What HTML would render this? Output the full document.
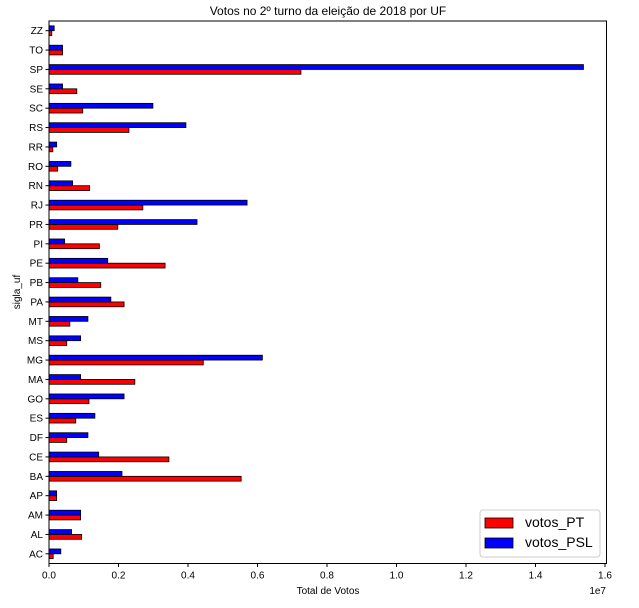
<!DOCTYPE html>
<html><head><meta charset="utf-8"><style>
body{margin:0;background:#fff;}
svg text{font-family:"Liberation Sans","DejaVu Sans",sans-serif;fill:#000;}
</style></head><body>
<svg id="chart" width="639" height="603" xmlns="http://www.w3.org/2000/svg">
<rect width="639" height="603" fill="#fff"/>
<text x="328" y="15" font-size="12" text-anchor="middle">Votos no 2º turno da eleição de 2018 por UF</text>
<g id="bars"></g>
<g id="axes"></g>
<rect x="49" y="21" width="557.5" height="542.5" fill="none" stroke="#000" stroke-width="1"/>
<text x="328" y="594" font-size="10" text-anchor="middle">Total de Votos</text>
<text x="606" y="594" font-size="10" text-anchor="end">1e7</text>
<text transform="translate(20,292) rotate(-90)" font-size="10" text-anchor="middle">sigla_uf</text>
<g>
<rect x="480" y="510" width="120" height="47" rx="3" fill="#fff" fill-opacity="0.8" stroke="#ccc"/>
<g><rect x="485" y="518" width="28" height="10" fill="#f00" stroke="#000" stroke-width="0.8"/><text x="525" y="527" font-size="14">votos_PT</text></g>
<g><rect x="485" y="538" width="28" height="10" fill="#00f" stroke="#000" stroke-width="0.8"/><text x="525" y="547" font-size="14">votos_PSL</text></g>
</g>
</svg>
<script>
const categories=["AC","AL","AM","AP","BA","CE","DF","ES","GO","MA","MG","MS","MT","PA","PB","PE","PI","PR","RJ","RN","RO","RR","RS","SC","SE","SP","TO","ZZ"];
const votosPT=[0.012,0.094,0.091,0.022,0.553,0.345,0.051,0.077,0.115,0.247,0.444,0.051,0.060,0.216,0.149,0.334,0.145,0.198,0.270,0.117,0.025,0.011,0.230,0.097,0.080,0.725,0.039,0.008];
const votosPSL=[0.034,0.065,0.091,0.022,0.210,0.143,0.112,0.132,0.216,0.091,0.614,0.091,0.112,0.178,0.083,0.169,0.045,0.426,0.570,0.068,0.063,0.022,0.394,0.299,0.039,1.538,0.039,0.015];
const xTicks=[0,0.2,0.4,0.6,0.8,1.0,1.2,1.4,1.6];
const xTickLabels=["0.0","0.2","0.4","0.6","0.8","1.0","1.2","1.4","1.6"];
</script>
<script>
const NS="http://www.w3.org/2000/svg";
const X0=49,SCALE=347.5,BOT=563.5,TOP=21;
const n=categories.length;
const step=(BOT-TOP)/n;
function xs(v){return X0+v*SCALE;}
function ys(i){return BOT-step*(i+0.5);}
const bw=step*0.25;
const bars=document.getElementById('bars'),axes=document.getElementById('axes');
function mk(t,a,p){const e=document.createElementNS(NS,t);for(const k in a)e.setAttribute(k,a[k]);p.appendChild(e);return e;}
categories.forEach((c,i)=>{
 const y=ys(i);
 const r1=mk('rect',{x:X0,y:y,width:xs(votosPT[i])-X0,height:bw,fill:'#f00',stroke:'#000','stroke-width':0.8},bars);
 
 
 const r2=mk('rect',{x:X0,y:y-bw,width:xs(votosPSL[i])-X0,height:bw,fill:'#00f',stroke:'#000','stroke-width':0.8},bars);
 
 
 mk('line',{x1:X0-3.5,x2:X0,y1:y,y2:y,stroke:'#000'},axes);
 const t=mk('text',{x:X0-6,y:y+3.5,'font-size':10,'text-anchor':'end'},axes);
 t.textContent=c;
 
 
});
xTicks.forEach((v,i)=>{
 const x=xs(v);
 mk('line',{x1:x,x2:x,y1:BOT,y2:BOT+3.5,stroke:'#000'},axes);
 const t=mk('text',{x:x,y:BOT+15,'font-size':10,'text-anchor':'middle'},axes);
 t.textContent=xTickLabels[i];
 
 
});
</script>
</body></html>
